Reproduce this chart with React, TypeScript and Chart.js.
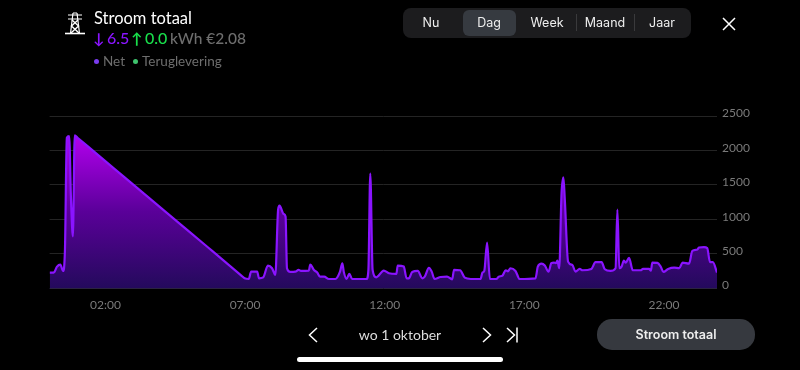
import React, { useEffect, useRef } from "react";
import { Chart, registerables } from "chart.js";

Chart.register(...registerables);

const minutes = [0,9,16,23,29,33,37,42,46,50,54,60,100,160,220,280,340,400,412,419,428,433,446,450,459,469,478,485,491,494,503,507,510,517,528,535,540,557,560,568,575,581,590,600,614,624,629,632,638,644,650,681,685,689,694,702,718,729,745,748,761,767,772,779,791,801,806,815,821,827,840,854,865,869,882,892,905,926,930,934,940,946,960,965,973,980,985,990,1001,1010,1044,1049,1057,1064,1072,1078,1084,1088,1091,1095,1100,1104,1107,1114,1123,1130,1139,1145,1164,1173,1186,1193,1205,1216,1220,1224,1229,1234,1238,1245,1253,1270,1275,1288,1292,1295,1306,1313,1319,1329,1342,1353,1360,1374,1381,1392,1395,1406,1413,1419,1425,1434];
const netPower = [224,224,311,340,248,555,2184,2208,1284,749,2218,2184,1956,1615,1274,933,592,250,181,141,131,238,238,141,155,326,287,190,1138,1196,1075,1040,287,233,238,263,248,253,340,263,224,165,165,131,131,238,360,238,131,204,131,131,263,1663,263,155,253,214,204,326,311,141,141,233,248,141,165,292,238,131,160,165,126,263,258,150,131,131,224,248,661,131,131,165,180,258,243,287,248,131,141,311,355,326,238,360,370,360,399,287,1381,1610,1284,384,336,238,277,258,277,375,375,272,248,287,1138,287,311,399,370,438,258,258,277,277,253,370,365,311,233,277,297,287,370,355,540,559,589,593,579,375,375,224];
const xTickMinutes = [120, 420, 720, 1020, 1320];
const xTickLabels = ["02:00", "07:00", "12:00", "17:00", "22:00"];
const yTicks = [0, 500, 1000, 1500, 2000, 2500];
const tabs = ["Nu", "Dag", "Week", "Maand", "Jaar"];
const tabCenters = [431, 489, 547, 605, 662];

const abs = (o: React.CSSProperties): React.CSSProperties => ({ position: "absolute", whiteSpace: "nowrap", ...o });
const UI = "Lato, sans-serif";
const NAV = "Inter, sans-serif";

export default function App() {
  const ref = useRef<HTMLCanvasElement>(null);
  useEffect(() => {
    const chart = new Chart(ref.current!, {
      type: "line",
      data: {
        datasets: [{
          data: minutes.map((m, i) => ({ x: m, y: netPower[i] })),
          borderColor: "#8a14ff",
          borderWidth: 2.2,
          pointRadius: 0,
          cubicInterpolationMode: "monotone",
          fill: "origin",
          backgroundColor: (c: any) => {
            const { chart: ch } = c;
            const a = ch.chartArea;
            if (!a) return "#300a70";
            const y = ch.scales.y;
            const g = ch.ctx.createLinearGradient(0, y.getPixelForValue(2218), 0, y.getPixelForValue(0));
            g.addColorStop(0, "#b300ee");
            g.addColorStop(0.5, "#5a0099");
            g.addColorStop(1, "#240a5c");
            return g;
          },
        }],
      },
      options: {
        animation: false,
        responsive: false,
        maintainAspectRatio: false,
        layout: { padding: { left: 49.6, top: 116, right: 0, bottom: 0 } },
        plugins: { legend: { display: false }, tooltip: { enabled: false } },
        scales: {
          x: {
            type: "linear",
            min: 0,
            max: 1434,
            grid: { display: false },
            border: { display: false },
            afterBuildTicks: (s: any) => { s.ticks = xTickMinutes.map((value) => ({ value })); },
            afterFit: (s: any) => { s.height = 82; },
            ticks: {
              color: "#7a7a7a",
              font: { family: UI, size: 12 },
              padding: 2,
              maxRotation: 0,
              autoSkip: false,
              callback: (v: any) => xTickLabels[xTickMinutes.indexOf(Number(v))],
            },
          },
          y: {
            position: "right",
            min: 0,
            max: 2500,
            afterBuildTicks: (s: any) => { s.ticks = yTicks.map((value) => ({ value })); },
            afterFit: (s: any) => { s.width = 83; },
            grid: {
              drawTicks: false,
              lineWidth: 1,
              color: (c: any) => (c.tick && c.tick.value === 0 ? "#2b2340" : "#242424"),
            },
            border: { display: false },
            ticks: {
              color: "#7a7a7a",
              font: { family: UI, size: 12 },
              padding: 5,
              labelOffset: -2.5,
              crossAlign: "near",
              callback: (v: any) => String(v),
            },
          },
        },
      },
    } as any);
    return () => chart.destroy();
  }, []);

  return (
    <div style={{ position: "fixed", left: 0, top: 0, width: 800, height: 370, background: "#000", overflow: "hidden", fontFamily: UI }}>
      <canvas ref={ref} width={800} height={370} style={{ position: "absolute", left: 0, top: 0, width: 800, height: 370 }} />

      <svg style={abs({ left: 64, top: 12 })} width={22} height={24} viewBox="0 0 22 24" fill="none" stroke="#fff" strokeWidth={1.2}>
        <path d="M1 21.5H21" strokeWidth={1.6} />
        <path d="M4 3H18M4 7H18" />
        <path d="M9 1L6.5 21.5M13 1L15.5 21.5M9 1H13" />
        <path d="M8 8L14.5 14L7 21M14 8L7.5 14L15 21" strokeWidth={1.4} />
      </svg>
      <div style={abs({ left: 94, top: 8, fontSize: 16.5, color: "#fff", lineHeight: "20px" })}>Stroom totaal</div>
      <div style={abs({ left: 93, top: 28, fontSize: 15, fontWeight: 700, lineHeight: "20px", color: "#8a14ff" })}>↓</div>
      <div style={abs({ left: 107, top: 28, fontSize: 16, fontWeight: 500, lineHeight: "20px", color: "#8a14ff" })}>6.5</div>
      <div style={abs({ left: 131, top: 28, fontSize: 15, fontWeight: 700, lineHeight: "20px", color: "#19e04c" })}>↑</div>
      <div style={abs({ left: 145, top: 28, fontSize: 16, fontWeight: 500, lineHeight: "20px", color: "#19e04c" })}>0.0</div>
      <div style={abs({ left: 170, top: 28, fontSize: 15.5, fontWeight: 500, lineHeight: "20px", color: "#6e6e6e" })}>kWh €2.08</div>
      <div style={abs({ left: 93.5, top: 58.5, width: 5.5, height: 5.5, borderRadius: 3, background: "#7a3cf0" })} />
      <div style={abs({ left: 103, top: 53, fontSize: 13.5, lineHeight: "16px", color: "#6e6e6e" })}>Net</div>
      <div style={abs({ left: 132.5, top: 58.5, width: 5.5, height: 5.5, borderRadius: 3, background: "#3fc46e" })} />
      <div style={abs({ left: 142, top: 53, fontSize: 13.5, lineHeight: "16px", color: "#6e6e6e" })}>Teruglevering</div>

      <div style={abs({ left: 403, top: 8, width: 288, height: 30, borderRadius: 8, background: "#1c1c1e" })} />
      <div style={abs({ left: 463, top: 10, width: 53, height: 26, borderRadius: 6, background: "#363a40" })} />
      <div style={abs({ left: 575.5, top: 14, width: 1, height: 17, background: "#3a3a3c" })} />
      <div style={abs({ left: 633.5, top: 14, width: 1, height: 17, background: "#3a3a3c" })} />
      {tabs.map((t, i) => (
        <div key={t} style={abs({ left: tabCenters[i] - 30, width: 60, top: 14, lineHeight: "18px", textAlign: "center", fontFamily: NAV, fontSize: 12.5, color: "#eee" })}>{t}</div>
      ))}
      <svg style={abs({ left: 721, top: 16 })} width={16} height={16} viewBox="0 0 16 16" stroke="#fff" strokeWidth={1.5}>
        <path d="M2 2L14 14M14 2L2 14" />
      </svg>

      <svg style={abs({ left: 307, top: 326 })} width={12} height={18} viewBox="0 0 12 18" fill="none" stroke="#fff" strokeWidth={1.5}>
        <path d="M10 2L2.5 9L10 16" />
      </svg>
      <div style={abs({ left: 340, width: 120, top: 326, lineHeight: "18px", textAlign: "center", fontFamily: UI, fontSize: 14, color: "#ddd" })}>wo 1 oktober</div>
      <svg style={abs({ left: 481, top: 326 })} width={12} height={18} viewBox="0 0 12 18" fill="none" stroke="#fff" strokeWidth={1.5}>
        <path d="M2 2L9.5 9L2 16" />
      </svg>
      <svg style={abs({ left: 505, top: 326 })} width={14} height={18} viewBox="0 0 14 18" fill="none" stroke="#fff" strokeWidth={1.5}>
        <path d="M2 2L9.5 9L2 16M12 1.5V16.5" />
      </svg>
      <div style={abs({ left: 597, top: 319, width: 158, height: 31, borderRadius: 15, background: "#36393f" })} />
      <div style={abs({ left: 597, width: 158, top: 326, lineHeight: "18px", textAlign: "center", fontFamily: NAV, fontWeight: 600, fontSize: 12.5, color: "#eee" })}>Stroom totaal</div>
      <div style={abs({ left: 297, top: 357, width: 206, height: 5, borderRadius: 3, background: "#fff" })} />
    </div>
  );
}
